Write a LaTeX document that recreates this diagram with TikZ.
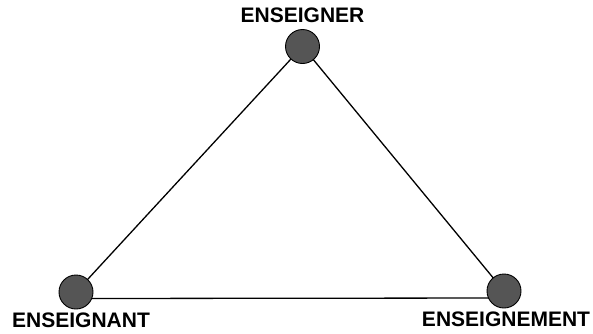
\documentclass[tikz,border=0pt]{standalone}
\usepackage{fontspec}
\setmainfont{Liberation Sans}
\usepackage{xcolor}
\usepackage{tikz}
\usetikzlibrary{positioning}
\definecolor{dotfill}{HTML}{555555}
\tikzset{
  pole/.style={circle,draw=black,line width=0.9pt,fill=dotfill,
    minimum size=34pt,inner sep=0pt},
  polelab/.style={inner sep=0pt,font=\fontsize{21pt}{23pt}\selectfont\bfseries},
  side/.style={draw=black,line width=1.3pt},
}
\begin{document}
\begin{tikzpicture}[x=1pt,y=-1pt]
  \useasboundingbox (0,0) rectangle (593,333);
  % the three poles, placed first so the sides can refer to them
  \coordinate(ens) at (302.5,46.5);
  \coordinate(ensa) at (76,292);
  \coordinate(ensm) at (504,291);
  \path[side](ensa)--(ens)--(ensm);
  \path[side]([yshift=-6.5pt]ensa)--([yshift=-7pt]ensm);
  \node[pole](pens) at (ens){};
  \node[pole](pensa) at (ensa){};
  \node[pole](pensm) at (ensm){};
  \node[polelab,above=6pt of pens](lens){ENSEIGNER};
  \node[polelab,below=3pt of pensa,xshift=5pt](lensa){ENSEIGNANT};
  \node[polelab,below=3.5pt of pensm,xshift=2pt](lensm){ENSEIGNEMENT};
\end{tikzpicture}
\end{document}
